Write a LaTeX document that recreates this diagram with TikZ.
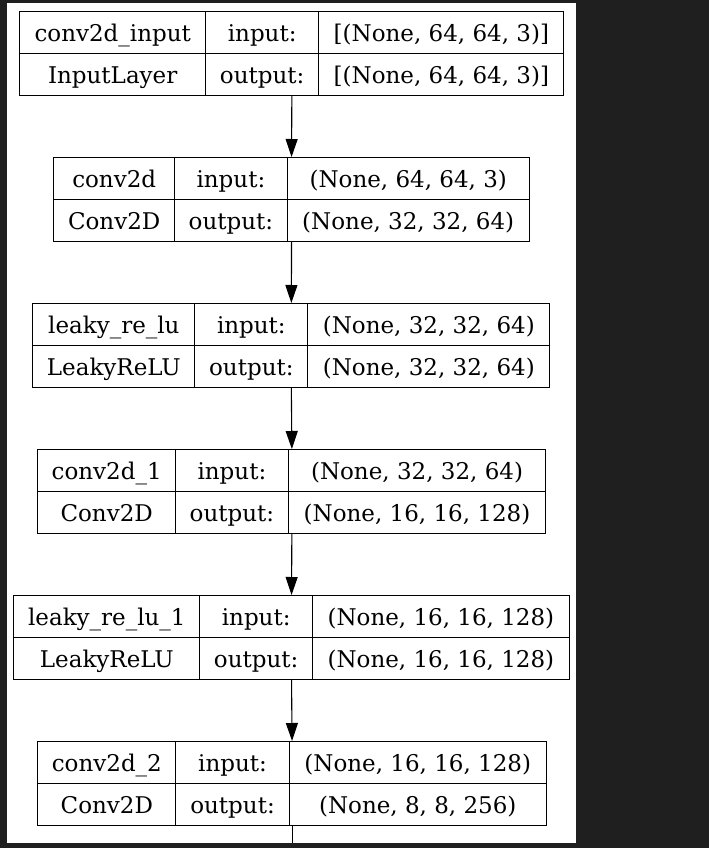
\documentclass[tikz,border=0pt]{standalone}
\usepackage{fontspec}
\setmainfont{DejaVu Serif}
\usetikzlibrary{arrows.meta,positioning}
\definecolor{darkbg}{RGB}{31,31,31}

\tikzset{
  cell/.style={draw,line width=1.1pt,inner sep=0pt,anchor=north west,
    minimum height=42pt,text height=19pt,text depth=2pt,
    font=\fontsize{23}{27}\selectfont},
  frame/.style={draw,line width=1.1pt,inner sep=0pt,anchor=north west,minimum height=84pt},
  flow/.style={-{Triangle[length=18pt,width=12pt]},line width=1.1pt}
}

% one layer: index, left, col 1, col 2, right, name, class, input, output
\newcommand{\layerbox}[9]{%
  \pgfmathsetmacro{\ytop}{-11-146*(#1-1)}
  \pgfmathsetmacro{\ymid}{\ytop-42}
  \node[frame,minimum width={(#5-#2)*1pt}] (L#1) at (#2pt,\ytop pt) {};
  \node[cell,minimum width={(#3-#2)*1pt}] (L#1name) at (#2pt,\ytop pt) {#6};
  \node[cell,minimum width={(#4-#3)*1pt}] (L#1in) at (#3pt,\ytop pt) {input:};
  \node[cell,minimum width={(#5-#4)*1pt}] (L#1inshape) at (#4pt,\ytop pt) {#8};
  \node[cell,minimum width={(#3-#2)*1pt}] (L#1class) at (#2pt,\ymid pt) {#7};
  \node[cell,minimum width={(#4-#3)*1pt}] (L#1out) at (#3pt,\ymid pt) {output:};
  \node[cell,minimum width={(#5-#4)*1pt}] (L#1outshape) at (#4pt,\ymid pt) {#9};
}

\begin{document}
\begin{tikzpicture}
  \useasboundingbox[fill=darkbg] (0pt,0pt) rectangle (709pt,-848pt);
  \fill[white] (7pt,-3pt) rectangle (575.5pt,-842.7pt);

  \layerbox{1}{19.3}{205}{318.3}{563.3}{conv2d\_input}{InputLayer}{[(None, 64, 64, 3)]}{[(None, 64, 64, 3)]}
  \layerbox{2}{53.3}{174}{286.7}{528.7}{conv2d}{Conv2D}{(None, 64, 64, 3)}{(None, 32, 32, 64)}
  \layerbox{3}{32.3}{194.3}{307.3}{549.3}{leaky\_re\_lu}{LeakyReLU}{(None, 32, 32, 64)}{(None, 32, 32, 64)}
  \layerbox{4}{37.3}{175}{287.7}{545.3}{conv2d\_1}{Conv2D}{(None, 32, 32, 64)}{(None, 16, 16, 128)}
  \layerbox{5}{13.3}{199.3}{312}{568.7}{leaky\_re\_lu\_1}{LeakyReLU}{(None, 16, 16, 128)}{(None, 16, 16, 128)}
  \layerbox{6}{37.3}{175.3}{288.7}{545.7}{conv2d\_2}{Conv2D}{(None, 16, 16, 128)}{(None, 8, 8, 256)}

  \foreach \a/\b in {1/2,2/3,3/4,4/5,5/6}
    \draw[flow] (L\a.south) -- (L\b.north);
  \coordinate (cut) at (291pt,-842.7pt);
  \draw[line width=1.1pt] (L6.south) -- (L6.south |- cut);
\end{tikzpicture}
\end{document}
